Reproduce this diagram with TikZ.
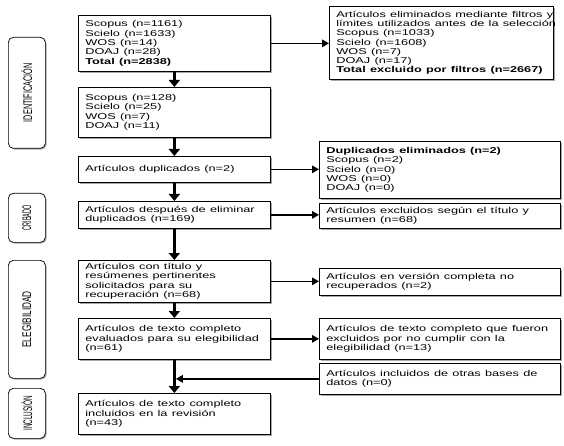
\documentclass[tikz,border=0pt]{standalone}
\usepackage{fontspec}
\setmainfont{Liberation Sans}
\newcommand\wl[1]{\scalebox{1.5}[1]{#1}}
\usetikzlibrary{shadows,arrows.meta}
\begin{document}
\begin{tikzpicture}[x=1pt,y=-1pt,
  shad/.style={drop shadow={shadow xshift=1.2pt,shadow yshift=-1.2pt,fill=black!35,opacity=1}},
  box/.style={draw,line width=0.7pt,fill=white,anchor=north west,align=left,
    inner xsep=7pt,inner ysep=0pt,font=\fontsize{8.5}{9.3}\selectfont,shad},
  mainbox/.style={box,text width=178pt},
  sidebox/.style={box,text width=227pt},
  phase/.style={draw,line width=0.7pt,rounded corners=5pt,fill=white,anchor=north west,
    minimum width=37pt,inner sep=0pt,shad},
  phasetext/.style={rotate=90,inner sep=0pt,font=\fontsize{12.5}{12.5}\selectfont},
  vflow/.style={line width=3pt,-{Triangle[length=7pt,width=11pt]}},
  hflow/.style={line width=1.6pt,-{Triangle[length=7pt,width=7.5pt]}}]
\useasboundingbox (0,0) rectangle (564,446);

% main column
\node[mainbox,minimum height=56pt] (b1) at (78,15) {\wl{Scopus (n=1161)}\\\wl{Scielo (n=1633)}\\\wl{WOS (n=14)}\\\wl{DOAJ (n=28)}\\\wl{\textbf{Total (n=2838)}}};
\node[mainbox,minimum height=50pt] (b2) at (78,87) {\wl{Scopus (n=128)}\\\wl{Scielo (n=25)}\\\wl{WOS (n=7)}\\\wl{DOAJ (n=11)}};
\node[mainbox,minimum height=26pt] (b3) at (78,156) {\wl{Artículos duplicados (n=2)}};
\node[mainbox,minimum height=27pt] (b4) at (78,201) {\wl{Artículos después de eliminar}\\\wl{duplicados (n=169)}};
\node[mainbox,minimum height=42pt] (b5) at (78,260) {\wl{Artículos con título y}\\\wl{resúmenes pertinentes}\\\wl{solicitados para su}\\\wl{recuperación (n=68)}};
\node[mainbox,minimum height=41pt] (b6) at (78,318) {\wl{Artículos de texto completo}\\\wl{evaluados para su elegibilidad}\\\wl{(n=61)}};
\node[mainbox,minimum height=41pt] (b7) at (78,393) {\wl{Artículos de texto completo}\\\wl{incluidos en la revisión}\\\wl{(n=43)}};

% side column
\node[box,text width=210pt,minimum height=73pt] (r1) at (329,6) {\wl{Artículos eliminados mediante filtros y}\\\wl{límites utilizados antes de la selección}\\\wl{Scopus (n=1033)}\\\wl{Scielo (n=1608)}\\\wl{WOS (n=7)}\\\wl{DOAJ (n=17)}\\\wl{\textbf{Total excluido por filtros (n=2667)}}};
\node[sidebox,minimum height=57pt] (r2) at (319,141) {\wl{\textbf{Duplicados eliminados (n=2)}}\\\wl{Scopus (n=2)}\\\wl{Scielo (n=0)}\\\wl{WOS (n=0)}\\\wl{DOAJ (n=0)}};
\node[sidebox,minimum height=25pt] (r3) at (319,203) {\wl{Artículos excluidos según el título y}\\\wl{resumen (n=68)}};
\node[sidebox,minimum height=27pt] (r4) at (319,268) {\wl{Artículos en versión completa no}\\\wl{recuperados (n=2)}};
\node[sidebox,minimum height=41pt] (r5) at (319,318) {\wl{Artículos de texto completo que fueron}\\\wl{excluidos por no cumplir con la}\\\wl{elegibilidad (n=13)}};
\node[sidebox,minimum height=31pt] (r6) at (319,363) {\wl{Artículos incluidos de otras bases de}\\\wl{datos (n=0)}};

% phases
\node[phase,minimum height=111pt] (p1) at (8,37) {};
\node[phasetext] (p1t) at (p1.center) {\scalebox{0.58}[1]{IDENTIFICACIÓN}};
\node[phase,minimum height=49pt] (p2) at (8,193) {};
\node[phasetext] (p2t) at (p2.center) {\scalebox{0.44}[1]{CRIBADO}};
\node[phase,minimum height=118pt] (p3) at (8,260) {};
\node[phasetext] (p3t) at (p3.center) {\scalebox{0.66}[1]{ELEGIBILIDAD}};
\node[phase,minimum height=50pt] (p4) at (8,388) {};
\node[phasetext] (p4t) at (p4.center) {\scalebox{0.51}[1]{INCLUSIÓN}};

% vertical flow
\draw[vflow] (b1.south) -- (b2.north);
\draw[vflow] (b2.south) -- (b3.north);
\draw[vflow] (b3.south) -- (b4.north);
\draw[vflow] (b4.south) -- (b5.north);
\draw[vflow] (b5.south) -- (b6.north);
\draw[vflow] (b6.south) -- (b7.north);

% horizontal flow
\draw[hflow] (b1.east) -- (b1.east -| r1.west);
\draw[hflow] (b3.east) -- (b3.east -| r2.west);
\draw[hflow] (b4.east) -- (b4.east -| r3.west);
\draw[hflow] (b5.east) -- (b5.east -| r4.west);
\draw[hflow] (b6.east) -- (b6.east -| r5.west);
\draw[hflow,shorten >=1.5pt] (r6.west) -- (r6.west -| b6.south);
\end{tikzpicture}
\end{document}
